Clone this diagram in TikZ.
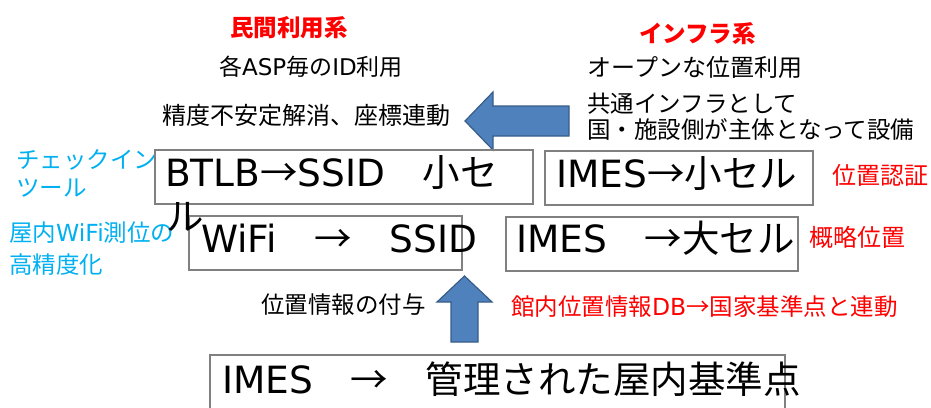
\documentclass[tikz,border=0pt]{standalone}
\usepackage{fontspec}
\setmainfont{Noto Sans CJK JP}
\newfontfamily\latf{DejaVu Sans}
\newcommand\lt[1]{{\latf #1}}
\definecolor{redlab}{RGB}{255,0,0}
\definecolor{cyanlab}{RGB}{0,176,240}
\definecolor{arrowfill}{RGB}{79,129,189}
\definecolor{arrowedge}{RGB}{56,93,138}
\definecolor{boxedge}{RGB}{128,128,128}
\tikzset{
  bigtext/.style={font=\fontsize{37.5}{44}\selectfont, anchor=base west, inner sep=0pt},
  boxframe/.style={draw=boxedge, line width=1.2pt},
  blockarrow/.style={fill=arrowfill, draw=arrowedge, line width=1.2pt, line join=miter},
  midtext/.style={font=\fontsize{24}{28}\selectfont, inner sep=0pt},
  redtitle/.style={font=\fontsize{23.5}{28}\selectfont\bfseries, text=redlab, inner sep=0pt},
  redlabel/.style={font=\fontsize{24}{28}\selectfont, text=redlab, inner sep=0pt},
  cyanlabel/.style={font=\fontsize{23.5}{30}\selectfont, text=cyanlab, inner sep=0pt, align=left, anchor=west},
}
\begin{document}
\begin{tikzpicture}[x=1pt,y=-1pt]
\clip (0,0) rectangle (931,407);
\fill[white] (0,0) rectangle (931,407);

% titles
\node[redtitle] (tminkan) at (289,27.5) {民間利用系};
\node[redtitle] (tinfra) at (697.5,34) {インフラ系};
\node[midtext, font=\fontsize{23}{28}\selectfont] (asp) at (311,67) {各\lt{ASP}毎の\lt{ID}利用};
\node[midtext] (open) at (695,67) {オープンな位置利用};
\node[midtext] (seido) at (306.5,115) {精度不安定解消、座標連動};
\node[midtext, font=\fontsize{23.5}{26}\selectfont, align=left, anchor=west] (kyotsu) at (587,116.5) {共通インフラとして\\国・施設側が主体となって設備};

% left block arrow
\draw[blockarrow] (465,121) -- (493,92) -- (493,106) -- (569,106) -- (569,136) -- (493,136) -- (493,150) -- cycle;

% side labels
\node[cyanlabel, font=\fontsize{23.5}{28}\selectfont] (checkin) at (16,173.5) {チェックイン\\ツール};
\node[cyanlabel, font=\fontsize{23.5}{32}\selectfont] (okunai) at (9,249) {屋内\lt{WiFi}測位の\\高精度化};
\node[redlabel] (ninsho) at (880.5,175.5) {位置認証};
\node[redlabel] (gairyaku) at (857.5,237) {概略位置};

% boxes
\draw[boxframe] (155,150) rectangle (533,204);
\draw[boxframe] (189,216) rectangle (462,270);
\draw[boxframe] (545,151) rectangle (813,205);
\draw[boxframe] (506,217) rectangle (798,271);
\draw[boxframe] (210,355) rectangle (785,420);

% box texts
\node[bigtext] (btlb) at (165,186) {\lt{BTLB}→\lt{SSID}　小セ};
\node[bigtext] (btlbwrap) at (166,230) {ル};
\node[bigtext] (wifi) at (201,252) {\lt{WiFi}　→　\lt{SSID}};
\node[bigtext] (imessmall) at (556,187) {\lt{IMES}→小セル};
\node[bigtext] (imeslarge) at (516,252) {\lt{IMES}　→大セル};
\node[bigtext] (imesbase) at (222,393) {\lt{IMES}　→　管理された屋内基準点};

% up block arrow
\draw[blockarrow] (464.5,276) -- (492,302) -- (478,302) -- (478,342) -- (451,342) -- (451,302) -- (437,302) -- cycle;

\node[midtext, font=\fontsize{23.5}{28}\selectfont] (fuyo) at (343.5,305) {位置情報の付与};
\node[redlabel, font=\fontsize{23.5}{28}\selectfont] (kannai) at (704.5,307) {館内位置情報\lt{DB}→国家基準点と連動};
\end{tikzpicture}
\end{document}
